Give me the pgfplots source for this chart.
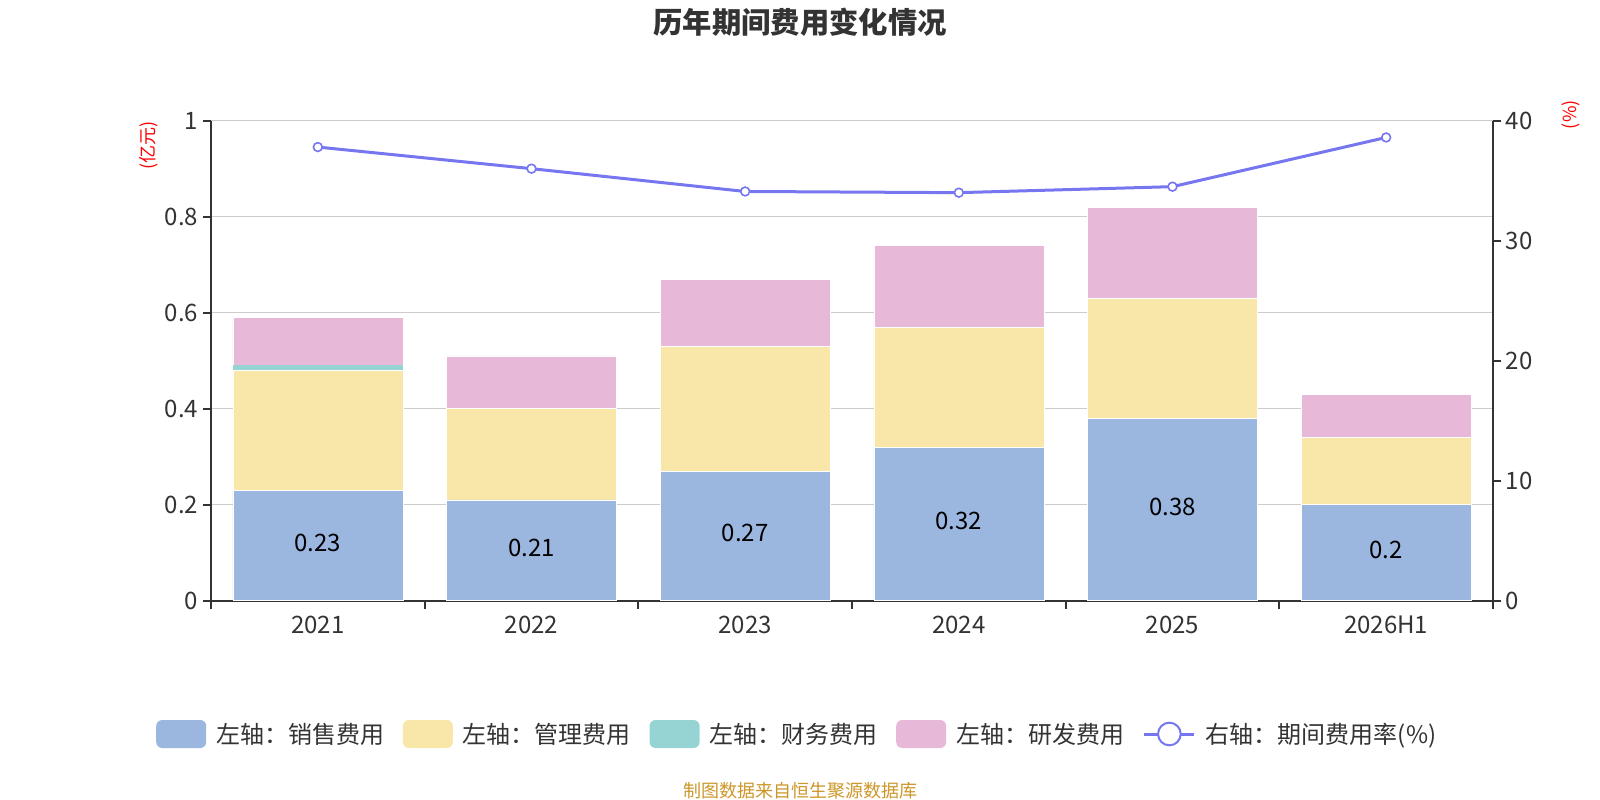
\documentclass[border=0pt]{standalone}
\usepackage{pgfplots}
\pgfplotsset{compat=1.18}
\usepackage{fontspec}
\setmainfont{Noto Sans CJK SC}
\definecolor{c1}{RGB}{155,183,224}
\definecolor{c2}{RGB}{248,231,168}
\definecolor{c3}{RGB}{150,212,212}
\definecolor{c4}{RGB}{232,184,216}
\definecolor{linec}{RGB}{118,118,240}
\definecolor{srcc}{RGB}{204,150,40}
\definecolor{axisc}{RGB}{51,51,51}
\definecolor{tickc}{RGB}{51,51,51}
\definecolor{gridc}{RGB}{204,204,204}
\pgfplotsset{
  barlegend/.style={legend image code/.code={\fill[##1, draw=none, rounded corners=4.5pt] (0pt,-10.5pt) rectangle (37.5pt,10.5pt);}},
  linelegend/.style={legend image code/.code={\draw[linec, line width=2.25pt] (0pt,0pt) -- (37.5pt,0pt); \draw[linec, fill=white, line width=1.5pt] (18.75pt,0pt) circle (8.5pt);}},
  common/.style={at={(158.25pt,149.5pt)}, anchor=south west, scale only axis,
    width=961.5pt, height=360pt, xmin=-0.5, xmax=5.5,
    /pgf/number format/assume math mode=true,
    tick label style={font=\fontsize{18pt}{20pt}\selectfont, text=tickc},
    axis line style={axisc, line width=1.5pt, -},
    tick style={axisc, line width=1.5pt},
    major tick length=6pt, minor tick length=6pt, tick align=outside}
}
\begin{document}
\begin{tikzpicture}
\useasboundingbox (0,0) rectangle (1200pt,600pt);
\begin{axis}[common, ybar stacked, bar width=127.5pt, ymin=0, ymax=1,
  axis y line*=left, axis x line*=bottom,
  xtick={0,1,2,3,4,5}, xticklabels={2021,2022,2023,2024,2025,2026H1},
  major x tick style={draw=none},
  minor xtick={-0.5,0.5,1.5,2.5,3.5,4.5,5.5},
  ytick={0,0.2,0.4,0.6,0.8,1},
  ymajorgrids, grid style={gridc, line width=1pt},
  xticklabel style={yshift=-2pt}]
\addplot[fill=c1, draw=white, line width=0.5pt] coordinates {(0,0.23) (1,0.21) (2,0.27) (3,0.32) (4,0.38) (5,0.20)};
\addplot[fill=c2, draw=white, line width=0.5pt] coordinates {(0,0.25) (1,0.19) (2,0.26) (3,0.25) (4,0.25) (5,0.14)};
\addplot[fill=c3, draw=none] coordinates {(0,0.01) (1,0) (2,0) (3,0) (4,0) (5,0)};
\addplot[fill=c4, draw=white, line width=0.5pt] coordinates {(0,0.10) (1,0.11) (2,0.14) (3,0.17) (4,0.19) (5,0.09)};
\end{axis}
\begin{axis}[common, ymin=0, ymax=1, hide axis]
\addplot[draw=none, mark=none, nodes near coords, point meta=explicit symbolic,
  nodes near coords style={anchor=center, yshift=2pt, font=\fontsize{18pt}{20pt}\selectfont, text=black}]
  coordinates {(0,0.115)[0.23] (1,0.105)[0.21] (2,0.135)[0.27] (3,0.16)[0.32] (4,0.19)[0.38] (5,0.10)[0.2]};
\end{axis}
\begin{axis}[common, ymin=0, ymax=40, axis y line*=right, hide x axis,
  ytick={0,10,20,30,40},
  legend columns=5,
  legend style={at={(0.4565,-0.2778)}, anchor=center, draw=none, fill=none,
    font=\fontsize{18pt}{20pt}\selectfont, text=tickc,
    nodes={inner sep=0pt},
    /tikz/every odd column/.append style={column sep=7.5pt},
    /tikz/every even column/.append style={column sep=14pt}}]
\addlegendimage{barlegend, fill=c1}
\addlegendentry{左轴：销售费用}
\addlegendimage{barlegend, fill=c2}
\addlegendentry{左轴：管理费用}
\addlegendimage{barlegend, fill=c3}
\addlegendentry{左轴：财务费用}
\addlegendimage{barlegend, fill=c4}
\addlegendentry{左轴：研发费用}
\addplot[linec, line width=2.25pt, mark=*, mark size=3.3pt,
  mark options={fill=white, draw=linec, line width=1.2pt}, linelegend]
  coordinates {(0,37.8) (1,36.0) (2,34.1) (3,34.0) (4,34.5) (5,38.6)};
\addlegendentry{右轴：期间费用率(\%)}
\end{axis}
\node[font=\fontsize{22pt}{24pt}\selectfont\bfseries, text=axisc] at (600pt,583pt) {历年期间费用变化情况};
\node[font=\fontsize{13.5pt}{15pt}\selectfont, text=srcc] at (600pt,7pt) {制图数据来自恒生聚源数据库};
\node[font=\fontsize{13.5pt}{15pt}\selectfont, text=red, rotate=90] at (111.75pt,491pt) {(亿元)};
\node[font=\fontsize{13.5pt}{15pt}\selectfont, text=red, rotate=90] at (1178.25pt,514pt) {(\%)};
\end{tikzpicture}
\end{document}
